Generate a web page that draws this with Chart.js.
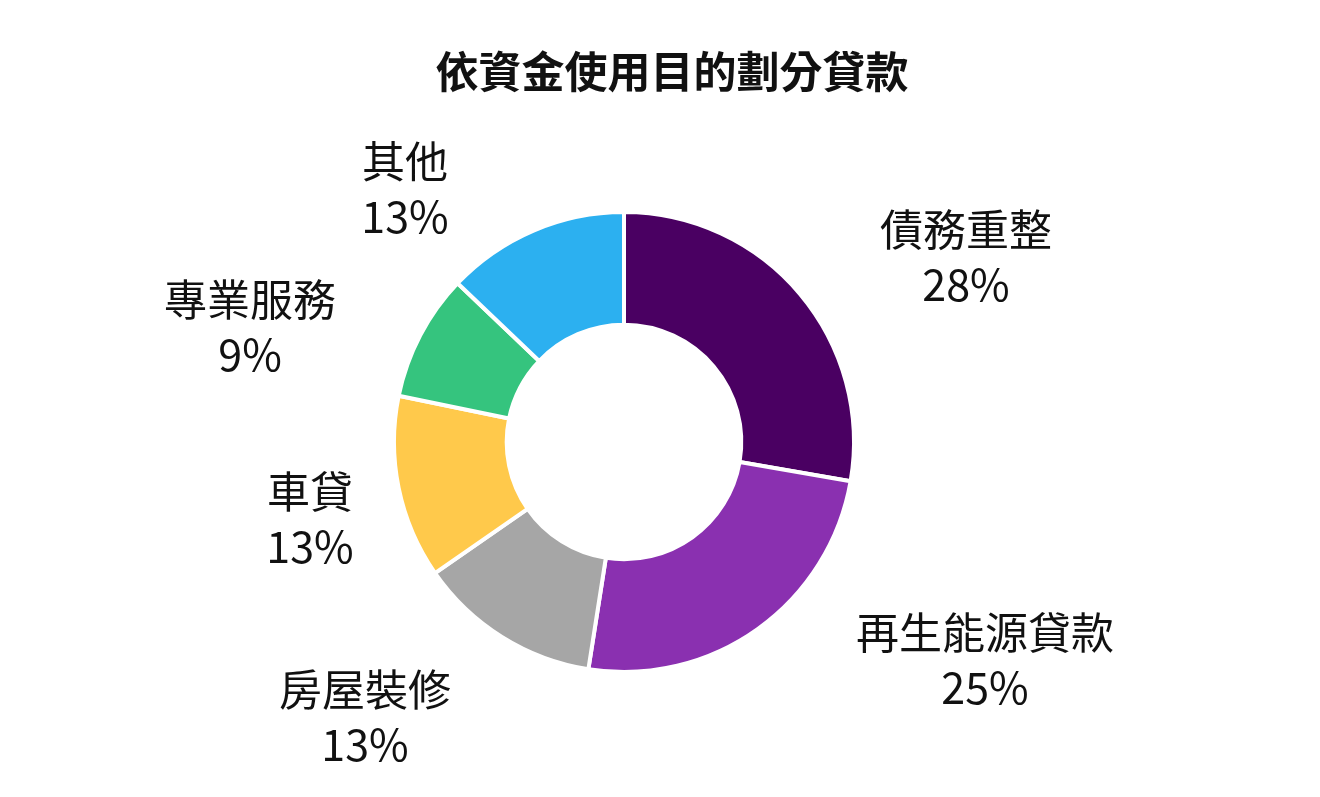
<!DOCTYPE html>
<html>
<head>
<meta charset="utf-8">
<script src="https://cdn.jsdelivr.net/npm/chart.js@4.4.1/dist/chart.umd.min.js"></script>
<style>
  html, body { margin: 0; padding: 0; background: #ffffff; }
  #wrap { width: 1320px; height: 797px; position: relative; }
</style>
</head>
<body>
<div id="wrap"><canvas id="chart" width="1320" height="797"></canvas></div>
<script>
const TITLE = '依資金使用目的劃分貸款';
const categories = ['債務重整', '再生能源貸款', '房屋裝修', '車貸', '專業服務', '其他'];
const shares = [28, 25, 13, 13, 9, 13];
const sliceColors = ['#4a0062', '#8a30b0', '#a6a6a6', '#ffc94b', '#35c47e', '#2cb0f0'];

// label block centres, relative to the doughnut centre (layout only)
const labelOffsets = [[342, -185], [361, 218], [-259, 275], [-314, 77], [-374, -115], [-219, -253]];

const FONT = '"Noto Sans CJK TC", "Noto Sans", sans-serif';

const textPlugin = {
  id: 'textPlugin',
  afterDraw(chart) {
    const ctx = chart.ctx;
    ctx.save();
    ctx.fillStyle = '#111111';
    ctx.textAlign = 'center';
    ctx.textBaseline = 'middle';

    // title
    ctx.font = 'bold 43px ' + FONT;
    ctx.fillText(TITLE, 672, 72);

    // slice labels
    const meta = chart.getDatasetMeta(0);
    ctx.font = '43px ' + FONT;
    meta.data.forEach((arc, i) => {
      const cx = arc.x + labelOffsets[i][0];
      const cy = arc.y + labelOffsets[i][1];
      ctx.fillText(categories[i], cx, cy - 27.5);
      ctx.fillText(shares[i] + '%', cx, cy + 27.5);
    });
    ctx.restore();
  }
};

new Chart(document.getElementById('chart'), {
  type: 'doughnut',
  data: {
    labels: categories,
    datasets: [{
      data: shares,
      backgroundColor: sliceColors,
      borderColor: '#ffffff',
      borderWidth: 4
    }]
  },
  options: {
    responsive: false,
    animation: false,
    cutout: '51%',
    layout: {
      padding: { left: 392, right: 464, top: 210, bottom: 123 }
    },
    plugins: {
      legend: { display: false },
      title: { display: false },
      tooltip: { enabled: false }
    }
  },
  plugins: [textPlugin]
});
</script>
</body>
</html>
